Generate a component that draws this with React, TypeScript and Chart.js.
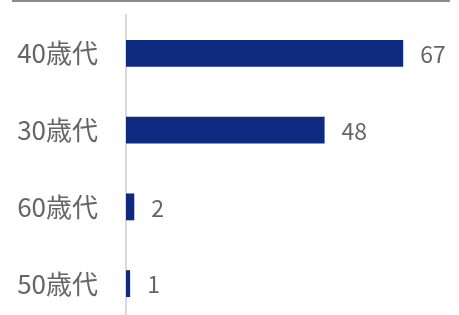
import React, { useEffect, useRef } from "react";
import { Chart, registerables } from "chart.js";

Chart.register(...registerables);

const categories = ["40歳代", "30歳代", "60歳代", "50歳代"];
const values = [67, 48, 2, 1];

const FONT = '"Noto Sans CJK JP", "Noto Sans", sans-serif';

const topLinePlugin = {
  id: "topLine",
  beforeDraw(chart: any) {
    const ctx = chart.ctx;
    ctx.save();
    ctx.strokeStyle = "#8c8c8c";
    ctx.lineWidth = 2;
    ctx.beginPath();
    ctx.moveTo(12, 1);
    ctx.lineTo(450, 1);
    ctx.stroke();
    ctx.restore();
  },
};

const valueLabelPlugin = {
  id: "valueLabels",
  afterDatasetsDraw(chart: any) {
    const ctx = chart.ctx;
    const meta = chart.getDatasetMeta(0);
    ctx.save();
    ctx.fillStyle = "#666666";
    ctx.font = `23px ${FONT}`;
    ctx.textAlign = "left";
    ctx.textBaseline = "middle";
    meta.data.forEach((bar: any, i: number) => {
      ctx.fillText(String(values[i]), bar.x + 17, bar.y + 1);
    });
    ctx.restore();
  },
};

export default function App() {
  const ref = useRef<HTMLCanvasElement | null>(null);
  useEffect(() => {
    if (!ref.current) return;
    const chart = new Chart(ref.current, {
      type: "bar",
      data: {
        labels: categories,
        datasets: [
          {
            data: values,
            backgroundColor: "#0e2a80",
            categoryPercentage: 1,
            barPercentage: 0.35,
          },
        ],
      },
      options: {
        indexAxis: "y",
        animation: false,
        responsive: false,
        maintainAspectRatio: false,
        layout: { padding: { left: 16, right: 2, top: 15, bottom: 8 } },
        plugins: {
          legend: { display: false },
          tooltip: { enabled: false },
        },
        scales: {
          x: { display: false, min: 0, max: 80 },
          y: {
            grid: { display: false, drawTicks: false },
            border: { display: true, color: "#d9d9d9", width: 2 },
            ticks: {
              color: "#666666",
              font: { size: 26, family: FONT },
              padding: 28,
            },
            afterFit(scale: any) {
              scale.paddingTop = 0;
              scale.paddingBottom = 0;
              scale.width = 110;
            },
          },
        },
      },
      plugins: [topLinePlugin, valueLabelPlugin],
    });
    return () => chart.destroy();
  }, []);
  return (
    <div style={{ position: "fixed", top: 0, left: 0, width: 459, height: 330 }}>
      <canvas ref={ref} width={459} height={330} style={{ width: 459, height: 330 }} />
    </div>
  );
}
